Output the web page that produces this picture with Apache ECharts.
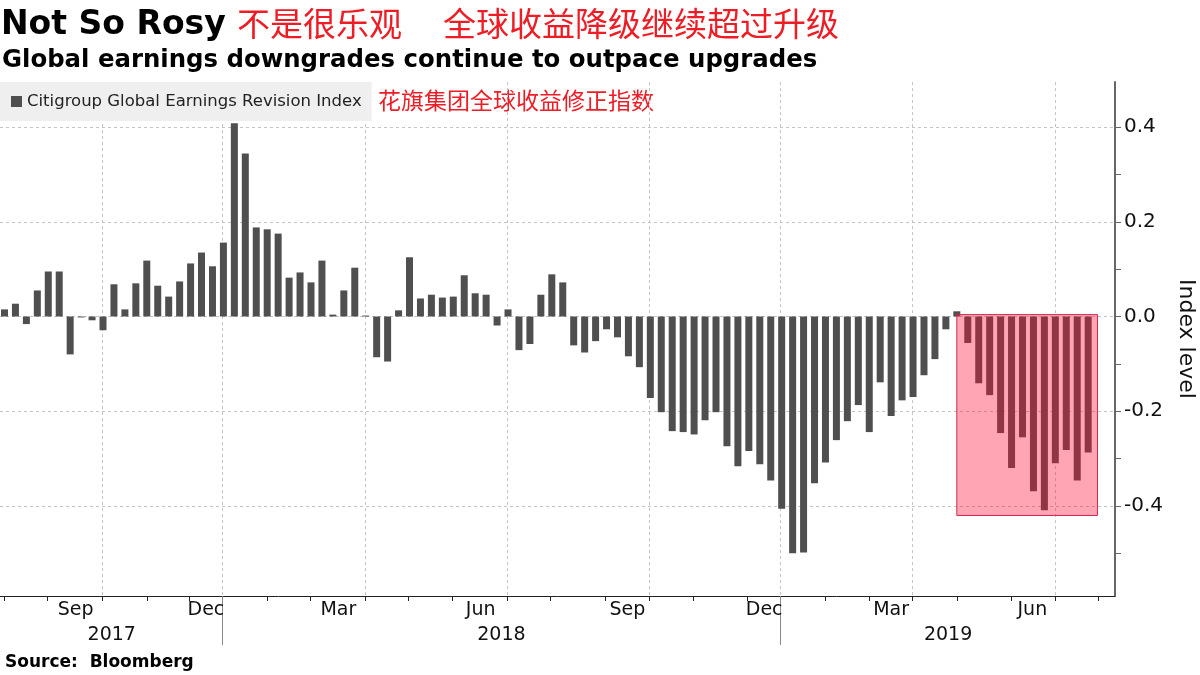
<!DOCTYPE html>
<html>
<head>
<meta charset="utf-8">
<script src="https://cdn.jsdelivr.net/npm/echarts@6/dist/echarts.min.js"></script>
<style>
  html, body { margin: 0; padding: 0; background: #fff; }
  #chart { width: 1200px; height: 675px; }
</style>
</head>
<body>
<div id="chart"></div>
<script>
// weekly index values, Aug 2017 -> Jul 2019
const values = [
  0.015, 0.027, -0.016, 0.055, 0.095, 0.095, -0.080, -0.002, -0.008, -0.029,
  0.068, 0.015, 0.070, 0.118, 0.065, 0.042, 0.074, 0.112, 0.135, 0.106,
  0.156, 0.408, 0.344, 0.188, 0.184, 0.175, 0.082, 0.093, 0.072, 0.118,
  0.004, 0.055, 0.103, 0.002, -0.086, -0.095, 0.013, 0.125, 0.038, 0.046,
  0.040, 0.042, 0.087, 0.049, 0.046, -0.019, 0.015, -0.071, -0.058, 0.046,
  0.089, 0.072, -0.061, -0.076, -0.052, -0.027, -0.044, -0.084, -0.107, -0.172,
  -0.202, -0.242, -0.244, -0.249, -0.219, -0.202, -0.274, -0.316, -0.284, -0.312,
  -0.346, -0.406, -0.500, -0.498, -0.352, -0.308, -0.261, -0.221, -0.187, -0.244,
  -0.139, -0.210, -0.177, -0.170, -0.124, -0.090, -0.027, 0.011, -0.056, -0.141,
  -0.166, -0.246, -0.320, -0.255, -0.369, -0.409, -0.310, -0.282, -0.346, -0.287
];

// x positions are in bar-index units
const monthTicks = [-0.05, 3.95, 8.94, 13, 16.89, 19.91, 23.97, 27.93, 32.98, 36.91, 40.93, 45.96,
  49.86, 54.89, 58.94, 62.96, 67.9, 70.91, 75, 79, 82.96, 87, 91.97, 95.96, 99.93];
const quarterStarts = [8.94, 19.91, 32.98, 45.96, 58.94, 70.91, 82.96, 95.96];
const monthLabelPos = [6.5, 18.4, 30.5, 43.5, 56.9, 69.4, 81, 93.9];
const monthLabels = ['Sep', 'Dec', 'Mar', 'Jun', 'Sep', 'Dec', 'Mar', 'Jun'];
const yearBreaks = [19.91, 70.91];
const yearLabelPos = [9.8, 45.4, 86.2];
const yearLabels = ['2017', '2018', '2019'];

const yTicks = [-0.5, -0.4, -0.3, -0.2, -0.1, 0, 0.1, 0.2, 0.3, 0.4];
const yLabels = [-0.4, -0.2, 0, 0.2, 0.4];

// highlighted recent stretch
const boxFrom = [87, 0.004];
const boxTo = [99.85, -0.42];

const X_MIN = -0.41, X_MAX = 101.45;
const Y_MIN = -0.59, Y_MAX = 0.495;
const FONT = 'DejaVu Sans';

function pick(pos, texts) {
  return function (v) {
    for (let i = 0; i < pos.length; i++) {
      if (Math.abs(pos[i] - v) < 0.01) return texts[i];
    }
    return '';
  };
}

const chart = echarts.init(document.getElementById('chart'));

const option = {
  animation: false,
  grid: { left: 0, right: 85, top: 82, bottom: 79, outerBoundsMode: 'none' },
  legend: {
    left: 0,
    top: 82,
    padding: [11, 10, 11, 11],
    backgroundColor: '#efefef',
    itemWidth: 11,
    itemHeight: 11,
    itemGap: 5,
    textStyle: { fontFamily: FONT, fontSize: 16.5, color: '#222' },
    data: [{ name: 'Citigroup Global Earnings Revision Index', icon: 'rect' }]
  },
  xAxis: [
    {
      type: 'value', min: X_MIN, max: X_MAX, position: 'bottom',
      axisLine: { show: true, onZero: false, lineStyle: { color: '#222', width: 1 } },
      axisTick: { show: true, customValues: monthTicks, length: 5, lineStyle: { color: '#222' } },
      axisLabel: {
        customValues: monthLabelPos, formatter: pick(monthLabelPos, monthLabels),
        margin: 5, fontFamily: FONT, fontSize: 19, color: '#111'
      },
      splitLine: { show: false }
    },
    {
      type: 'value', min: X_MIN, max: X_MAX, position: 'bottom',
      axisLine: { show: false, onZero: false },
      axisTick: { show: false, customValues: quarterStarts },
      axisLabel: { show: false },
      splitLine: { show: true, lineStyle: { color: '#c4c4c4', type: [3, 3], width: 1 } }
    },
    {
      type: 'value', min: X_MIN, max: X_MAX, position: 'bottom',
      axisLine: { show: false, onZero: false },
      axisTick: { show: true, customValues: yearBreaks, length: 49, lineStyle: { color: '#888' } },
      axisLabel: {
        customValues: yearLabelPos, formatter: pick(yearLabelPos, yearLabels),
        margin: 30, fontFamily: FONT, fontSize: 19, color: '#111'
      },
      splitLine: { show: false }
    }
  ],
  yAxis: [
    {
      type: 'value', min: Y_MIN, max: Y_MAX, position: 'right',
      name: 'Index level', nameLocation: 'middle', nameRotate: -90, nameGap: 60,
      nameTextStyle: { fontFamily: FONT, fontSize: 22, color: '#111' },
      axisLine: { show: true, onZero: false, lineStyle: { color: '#666', width: 2 } },
      axisTick: { show: true, customValues: yTicks, length: 6, lineStyle: { color: '#666' } },
      axisLabel: {
        customValues: yLabels, formatter: v => v.toFixed(1),
        margin: 9, fontFamily: FONT, fontSize: 20, color: '#111'
      },
      splitLine: { show: false }
    },
    {
      type: 'value', min: Y_MIN, max: Y_MAX, position: 'right',
      axisLine: { show: false, onZero: false },
      axisTick: { show: false, customValues: yLabels },
      axisLabel: { show: false },
      splitLine: { show: true, lineStyle: { color: '#c4c4c4', type: [3, 3], width: 1 } }
    }
  ],
  series: [
    {
      name: 'Citigroup Global Earnings Revision Index',
      type: 'bar',
      xAxisIndex: 0,
      yAxisIndex: 0,
      barWidth: 7,
      itemStyle: { color: '#4f4f4f' },
      data: values.map((v, i) => [i, v]),
      markArea: {
        silent: true,
        z: 5,
        itemStyle: { color: 'rgba(255,12,52,0.37)', borderColor: '#d62650', borderWidth: 1 },
        data: [[{ coord: boxFrom }, { coord: boxTo }]]
      }
    }
  ],
  graphic: [
    {
      type: 'text', left: 1, top: 9,
      style: { text: 'Not So Rosy', font: 'bold 33px "DejaVu Sans"', fill: '#000' }
    },
    {
      type: 'text', left: 237, top: 7,
      style: { text: '不是很乐观', font: '33px "Noto Sans CJK SC"', fill: '#ee1c25' }
    },
    {
      type: 'text', left: 443, top: 7,
      style: { text: '全球收益降级继续超过升级', font: '33px "Noto Sans CJK SC"', fill: '#ee1c25' }
    },
    {
      type: 'text', left: 2, top: 49,
      style: { text: 'Global earnings downgrades continue to outpace upgrades', font: 'bold 24.4px "DejaVu Sans"', fill: '#000' }
    },
    {
      type: 'text', left: 378, top: 89,
      style: { text: '花旗集团全球收益修正指数', font: '23px "Noto Sans CJK SC"', fill: '#ee1c25' }
    },
    {
      type: 'text', left: 5, top: 654,
      style: { text: 'Source:  Bloomberg', font: 'bold 17px "DejaVu Sans"', fill: '#000' }
    }
  ]
};

chart.setOption(option);
</script>
</body>
</html>
